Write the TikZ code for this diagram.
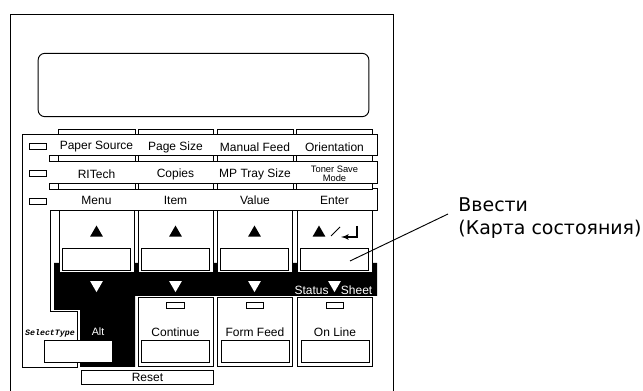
\documentclass[tikz,border=0pt]{standalone}
\usepackage{fontspec}
\setmainfont{Liberation Sans}
\newfontfamily\labelfont{DejaVu Sans}
\newfontfamily\typefont{Liberation Mono}
\usetikzlibrary{arrows,positioning,shapes.geometric}

\begin{document}
\begin{tikzpicture}[x=0.75pt, y=-0.75pt, line width=0.7pt, >=latex']
    \tikzstyle{keybody} = [draw, fill=white, rectangle, inner sep=0pt, minimum width=56.2pt, minimum height=47pt]
    \tikzstyle{lowbody} = [draw, fill=white, rectangle, inner sep=0pt, minimum width=56.2pt, minimum height=52pt]
    \tikzstyle{button} = [draw, fill=white, rectangle, inner sep=0pt, minimum width=51pt, minimum height=16.5pt]
    \tikzstyle{led} = [draw, fill=white, rectangle, inner sep=0pt, minimum width=13pt, minimum height=4.5pt]
    \tikzstyle{caption} = [inner sep=0pt, font=\fontsize{9}{9}\selectfont]
    \tikzstyle{uptri} = [fill=black, regular polygon, regular polygon sides=3, inner sep=0pt, minimum size=11.2pt]
    \tikzstyle{downtri} = [fill=white, regular polygon, regular polygon sides=3, shape border rotate=180, inner sep=0pt, minimum size=11pt]
    \useasboundingbox (0,0) rectangle (643,391);

    % Case and display
    \draw (10.5,391) -- (10.5,14.5) -- (393.5,14.5) -- (393.5,391);
    \node [draw, rectangle, rounded corners=5pt, inner sep=0pt, minimum width=248pt, minimum height=47.5pt] (display) at (203.5,85) {};

    % Black area behind the keys
    \fill (54,263) -- (377,263) -- (377,296) -- (135,296) -- (135,367) -- (80,367) -- (80,310) -- (54,310) -- cycle;

    % Panel outline
    \draw (372,183.5) -- (377,183.5) -- (377,161.5) -- (372,161.5) (372,155.5) -- (377,155.5) -- (377,134.5) -- (22.5,134.5) -- (22.5,367) -- (77,367) -- (77,311) -- (50,311) -- (50,210) -- (377,210) -- (377,188.5) -- (372,188.5);
    \foreach \y in {155.5,183.5} {
        \draw (49,\y) rectangle (372,\y+5.5);
        \foreach \x in {58,135,138,213,217,293,296} \draw (\x,\y) -- (\x,\y+5.5);
    }
    \foreach \xa/\xb in {58/135,138/213,217/293,296/372} \draw (\xa,134.5) |- (\xb,129) -- (\xb,134.5);

    % LEDs of the rows
    \foreach \i/\y in {a/146.5,b/173.5,c/201} \node [led] (led\i) at (38,\y) {};

    % Row captions
    \foreach \i/\x/\txt in {a/96.5/Paper Source,b/175.5/Page Size,c/255/Manual Feed,d/334.5/Orientation} \node [caption] (top\i) at (\x,147) {\txt};
    \foreach \i/\x/\txt in {a/96.5/RITech,b/175.5/Copies,c/255/MP Tray Size} \node [caption] (mid\i) at (\x,174) {\txt};
    \node [inner sep=0pt, align=center, font=\fontsize{7}{6.8}\selectfont] (midd) at (334.5,173.5) {Toner Save\\Mode};
    \foreach \i/\x/\txt in {a/96.5/Menu,b/175.5/Item,c/255/Value,d/334.5/Enter} \node [caption] (low\i) at (\x,200.5) {\txt};

    % Large keys
    \foreach \i/\x in {a/96.5,b/175.5,c/254.5,d/334.5} {
        \node [keybody] (key\i) at (\x,241.5) {};
        \node [button] (btn\i) at (\x,259) {};
        \node [downtri] (down\i) at (\x,284.8) {};
    }
    \foreach \i/\x in {a/96.5,b/175.5,c/254.5} \node [uptri] (up\i) at (\x,233) {};
    \node [uptri] (upd) at (319,233) {};
    \draw (331,236) -- (340,227);
    \draw [->, line width=1pt] (357,226) |- (341,237);

    % Status sheet
    \node [caption, text=white, anchor=east] (status) at (329,290) {Status};
    \node [caption, text=white, anchor=west] (sheet) at (340.5,290) {Sheet};

    % Lower keys
    \foreach \i/\x/\txt in {a/175.5/Continue,b/255/Form Feed,c/335/On Line} {
        \node [lowbody] (pad\i) at (\x,332) {};
        \node [led] (ind\i) at (\x,305) {};
        \node [caption] (name\i) at (\x,332.5) {\txt};
        \node [button] (pbtn\i) at (\x,351) {};
    }

    % Alt key and reset
    \node [inner sep=0pt, font=\typefont\bfseries\itshape\fontsize{6.2}{6.2}\selectfont] (select) at (50,333.5) {SelectType};
    \node [inner sep=0pt, text=white, font=\fontsize{8}{8}\selectfont] (alt) at (98,332) {Alt};
    \node [button] (altbtn) at (78.5,351.5) {};
    \node [draw, fill=white, rectangle, caption, minimum width=99.5pt, minimum height=11pt] (reset) at (147.5,377.5) {Reset};

    % Callout
    \node [anchor=west, inner sep=0pt, align=left, font=\labelfont\fontsize{14.2}{17.2}\selectfont] (callout) at (458,218) {Ввести\\(Карта состояния)};
    \coordinate (hit) at (350,261);
    \coordinate (tail) at (448,214);
    \draw (hit) -- (tail);
\end{tikzpicture}
\end{document}
